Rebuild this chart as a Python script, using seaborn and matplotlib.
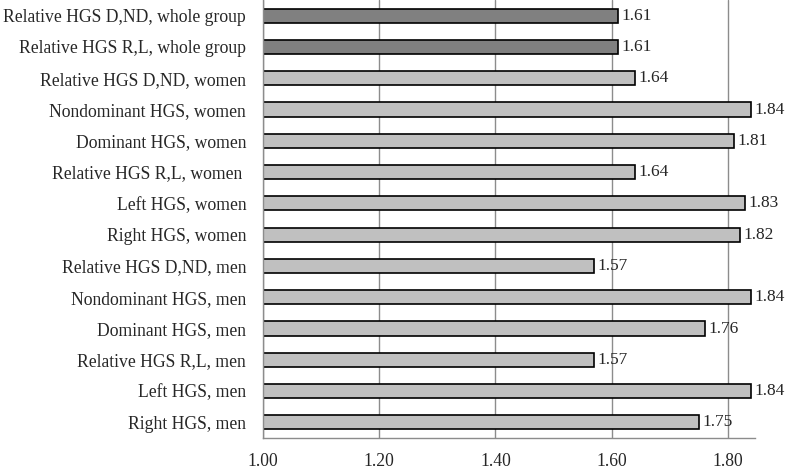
import numpy as np
import pandas as pd
import seaborn as sns
import matplotlib.pyplot as plt
from matplotlib.ticker import FixedLocator, FormatStrFormatter

# bars listed top to bottom, as in the figure
labels = [
    'Relative HGS D,ND, whole group',
    'Relative HGS R,L, whole group',
    'Relative HGS D,ND, women',
    'Nondominant HGS, women',
    'Dominant HGS, women',
    'Relative HGS R,L, women ',
    'Left HGS, women',
    'Right HGS, women',
    'Relative HGS D,ND, men',
    'Nondominant HGS, men',
    'Dominant HGS, men',
    'Relative HGS R,L, men',
    'Left HGS, men',
    'Right HGS, men',
]
values = [1.61, 1.61, 1.64, 1.84, 1.81, 1.64, 1.83, 1.82, 1.57, 1.84, 1.76, 1.57, 1.84, 1.75]
groups = ['whole'] * 2 + ['sub'] * 12
x_ticks = [1.00, 1.20, 1.40, 1.60, 1.80]

df = pd.DataFrame({'label': labels, 'value': values, 'group': groups})

sns.set_style('white')
plt.rcParams['font.family'] = ['Liberation Serif', 'DejaVu Serif']

fig = plt.figure(figsize=(7.87, 4.72), dpi=100)
ax = fig.add_axes([0.334, 0.072, 0.625, 0.928])

sns.barplot(data=df, x='value', y='label', hue='group', order=labels,
            palette={'whole': '#808080', 'sub': '#c0c0c0'}, dodge=False,
            width=0.45, edgecolor='black', linewidth=1.2, legend=False, ax=ax)

# bars start at 1.00, not zero
ax.set_xlim(1.0, 1.846)
for p in ax.patches:
    w = p.get_width()
    p.set_x(1.0)
    p.set_width(w - 1.0)

for i, v in enumerate(values):
    ax.text(v + 0.006, i, '%.2f' % v, va='center', ha='left', fontsize=12.5, clip_on=False)

ax.set_xticks(x_ticks)
ax.xaxis.set_major_formatter(FormatStrFormatter('%.2f'))
ax.grid(axis='x', color='#8c8c8c', linewidth=1.0)
ax.grid(axis='y', visible=False)
ax.set_axisbelow(True)

ax.set_ylim(len(labels) - 0.5, -0.5)
ax.yaxis.set_minor_locator(FixedLocator(np.arange(-0.5, len(labels), 1.0)))
ax.tick_params(axis='y', which='major', length=0, pad=12, labelsize=12.7)
ax.tick_params(axis='y', which='minor', length=5, color='#8c8c8c', direction='out')
ax.tick_params(axis='x', which='major', length=5, color='#8c8c8c', direction='out',
               labelsize=12.7, pad=6)

for s in ['top', 'right']:
    ax.spines[s].set_visible(False)
for s in ['left', 'bottom']:
    ax.spines[s].set_color('#8c8c8c')
    ax.spines[s].set_linewidth(1.0)

ax.set_xlabel('')
ax.set_ylabel('')

plt.savefig('out.png', dpi=100)
plt.close()
